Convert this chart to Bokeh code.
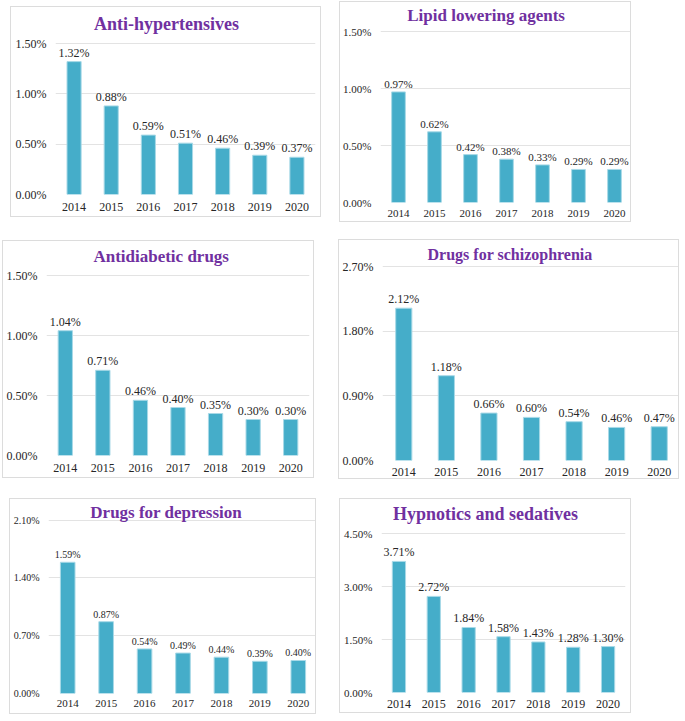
from bokeh.plotting import figure
from bokeh.models import FixedTicker, PrintfTickFormatter, Label, Spacer, Range1d, ColumnDataSource
from bokeh.layouts import row, column
from bokeh.embed import file_html
from bokeh.resources import INLINE
from bokeh.core.properties import value

years = ["2014", "2015", "2016", "2017", "2018", "2019", "2020"]

anti_hypertensives = [1.32, 0.88, 0.59, 0.51, 0.46, 0.39, 0.37]
lipid_lowering = [0.97, 0.62, 0.42, 0.38, 0.33, 0.29, 0.29]
antidiabetic = [1.04, 0.71, 0.46, 0.40, 0.35, 0.30, 0.30]
schizophrenia = [2.12, 1.18, 0.66, 0.60, 0.54, 0.46, 0.47]
depression = [1.59, 0.87, 0.54, 0.49, 0.44, 0.39, 0.40]
hypnotics = [3.71, 2.72, 1.84, 1.58, 1.43, 1.28, 1.30]

ticks_anti = [0.0, 0.5, 1.0, 1.5]
ticks_lipid = [0.0, 0.5, 1.0, 1.5]
ticks_diab = [0.0, 0.5, 1.0, 1.5]
ticks_schizo = [0.0, 0.9, 1.8, 2.7]
ticks_depr = [0.0, 0.7, 1.4, 2.1]
ticks_hypno = [0.0, 1.5, 3.0, 4.5]

titles = ["Anti-hypertensives", "Lipid lowering agents", "Antidiabetic drugs",
          "Drugs for schizophrenia", "Drugs for depression", "Hypnotics and sedatives"]

BAR = "#45ADC9"
TXT = "#262626"
PURPLE = "#7030A0"
FONT = "Liberation Serif"


def panel(title, vals, ticks, W, H, fl, ft, fw, fh, tcx, tcy,
          fs_title, fs_tick, fs_lab, fs_year, xstand):
    # W,H: outer panel size incl. 1px border; fl/ft: frame (top gridline) offsets;
    # tcx/tcy: title centre relative to the panel
    w = W - 2
    h = H - 2
    top = ticks[-1]
    zero = ft - 1 + fh          # canvas y of the zero line
    y_end = top * zero / fh     # frame spans from canvas top to zero line
    p = figure(x_range=years, y_range=Range1d(0, y_end), width=w, height=h,
               output_backend="svg", toolbar_location=None, tools="")
    right = max(0, W - fl - fw - 1)
    p.min_border_left = fl - 1
    p.min_border_top = 0
    p.min_border_right = right
    p.min_border_bottom = max(0, H - ft - fh - 1)
    p.outline_line_color = None
    p.background_fill_color = "white"
    p.border_fill_color = "white"
    p.styles = {"border": "1px solid #DCDCDC"}
    p.xgrid.grid_line_color = None
    p.ygrid.grid_line_color = "#E3E3E3"
    p.ygrid.grid_line_width = 1
    p.yaxis.ticker = FixedTicker(ticks=ticks)
    p.yaxis.formatter = PrintfTickFormatter(format="%.2f%%")
    for ax in (p.xaxis[0], p.yaxis[0]):
        ax.axis_line_color = None
        ax.major_tick_line_color = None
        ax.minor_tick_line_color = None
        ax.major_tick_out = 0
        ax.major_tick_in = 0
        ax.minor_tick_out = 0
        ax.major_label_text_font = FONT
        ax.major_label_text_color = TXT
    p.yaxis.major_label_text_font_size = f"{fs_tick}px"
    p.yaxis.major_label_standoff = 9
    p.xaxis.major_label_text_font_size = f"{fs_year}px"
    p.xaxis.major_label_standoff = xstand

    src = ColumnDataSource(dict(x=years, top=vals, lab=[f"{v:.2f}%" for v in vals]))
    p.vbar(x="x", top="top", bottom=0, width=0.38, source=src,
           fill_color=BAR, line_color="#A8D9E7", line_width=1)
    p.text(x="x", y="top", text="lab", source=src, text_align="center",
           text_baseline="bottom", y_offset=-2, text_font=value(FONT),
           text_font_size=f"{fs_lab}px", text_color=TXT)

    fw_real = w - (fl - 1) - right
    lx = (tcx - fl) / fw_real * len(years)
    ly = (ft + fh - tcy) / fh * top
    lab = Label(x=lx, y=ly, text=title, text_align="center", text_baseline="middle",
                text_font=FONT, text_font_style="bold", text_color=PURPLE,
                text_font_size=f"{fs_title}px")
    p.add_layout(lab)
    return p


p1 = panel(titles[0], anti_hypertensives, ticks_anti, 313, 213, 45, 37, 260, 151, 156, 17, 18, 12, 12, 12, 8)
p2 = panel(titles[1], lipid_lowering, ticks_lipid, 294, 223, 40, 30, 253, 171, 146, 14, 17, 11, 11, 11, 7)
p3 = panel(titles[2], antidiabetic, ticks_diab, 314, 240, 41, 35, 266, 180, 157, 16, 17, 12, 12, 12, 8)
p4 = panel(titles[3], schizophrenia, ticks_schizo, 343, 242, 43, 27, 300, 194, 171, 15, 16, 12, 12, 12, 7)
p5 = panel(titles[4], depression, ticks_depr, 309, 218, 36, 22, 272, 176, 155, 14, 17, 10, 10, 11, 6)
p6 = panel(titles[5], hypnotics, ticks_hypno, 294, 217, 42, 35, 244, 159, 146, 15, 18, 11, 12, 12, 7)

row1 = row(Spacer(width=10), column(Spacer(height=5), p1), Spacer(width=341 - 10 - 313), p2)
row2 = row(Spacer(width=2), column(Spacer(height=1), p3), Spacer(width=340 - 2 - 314), p4)
row3 = row(Spacer(width=9), p5, Spacer(width=341 - 9 - 309), p6)
layout = column(Spacer(height=1), row1, Spacer(height=241 - 224), row2,
                Spacer(height=502 - 483), row3)

open("out.html", "w").write(file_html(layout, INLINE))
